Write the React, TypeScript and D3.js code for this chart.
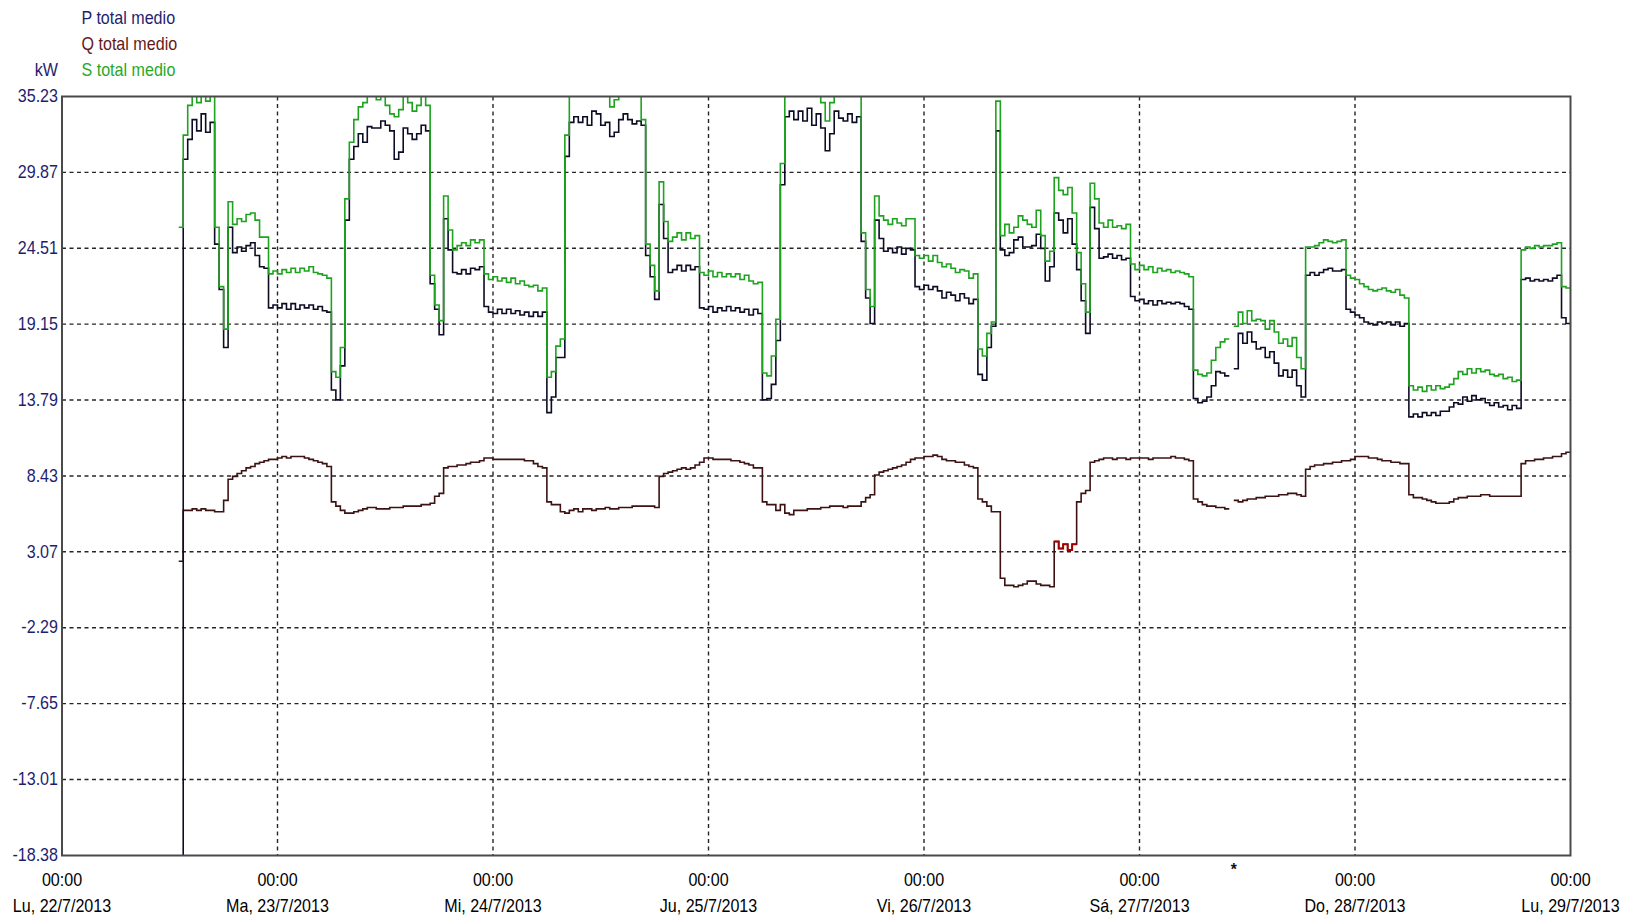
import React from "react";
import * as d3 from "d3";

// Half-hourly averages from Monday 22/7/2013 13:00 (hour 13 of the week) to Monday 29/7 00:00.
const FIRST_HOUR = 13;
const STEP_HOURS = 0.5;
const WEEK_HOURS = 168;

const yTickValues = [35.23, 29.87, 24.51, 19.15, 13.79, 8.43, 3.07, -2.29, -7.65, -13.01, -18.38];
const dayLabels = [
  "Lu, 22/7/2013",
  "Ma, 23/7/2013",
  "Mi, 24/7/2013",
  "Ju, 25/7/2013",
  "Vi, 26/7/2013",
  "Sá, 27/7/2013",
  "Do, 28/7/2013",
  "Lu, 29/7/2013",
];
const dayTimeLabel = "00:00";
const unitLabel = "kW";
const seriesNames = ["P total medio", "Q total medio", "S total medio"];
const gapMark = "*";
// hours where the reactive power readings are flagged
const qFlaggedHours = [110.5, 113];

// Active power P (kW); null = missing reading
const pTotal: (number | null)[] = [
  -19, 30.8, 32.2, 33.6, 32.8, 34.0, 32.7, 33.4, 24.8, 21.6,
  17.5, 26.0, 24.2, 24.6, 24.3, 24.7, 24.9, 24.0, 23.2, 23.1,
  20.3, 20.5, 20.3, 20.6, 20.2, 20.6, 20.2, 20.5, 20.3, 20.5,
  20.2, 20.4, 20.1, 20.0, 14.5, 13.8, 16.2, 26.5, 30.8, 31.7,
  32.6, 32.0, 33.1, 33.0,
  33.0, 33.5, 33.2, 32.8, 30.8, 31.3, 33.0, 32.6, 32.2, 32.6,
  33.2, 32.8, 22.0, 20.2, 18.4, 26.6, 24.4, 22.8, 22.7, 23.0,
  22.7, 23.1, 23.0, 23.2, 20.4, 20.0, 19.9, 20.2, 19.9, 20.2,
  19.9, 20.1, 19.8, 20.0, 19.7, 20.0, 19.7, 20.0, 12.9, 14.0,
  16.8, 16.8, 31.0, 33.4, 33.8,
  33.4, 33.8, 33.2, 34.2, 34.0, 33.2, 33.4, 32.4, 32.7, 33.6,
  34.0, 33.6, 33.3, 33.5, 33.2, 24.0, 22.5, 20.9, 27.6, 25.2,
  22.8, 23.0, 23.3, 22.9, 23.3, 23.0, 23.2, 20.3, 20.2, 20.4,
  20.0, 20.3, 20.1, 20.4, 20.1, 20.3, 20.0, 20.2, 19.8, 20.2,
  19.9, 13.8, 13.9, 14.9, 18.0,
  29.0, 33.8, 34.2, 33.6, 34.2, 33.5, 34.4, 33.2, 34.0, 33.0,
  31.4, 32.6, 34.2, 33.7, 33.5, 34.0, 33.4, 33.8, 25.0, 21.0,
  19.2, 26.5, 25.2, 24.3, 24.5, 24.2, 24.6, 24.1, 24.5, 24.4,
  21.8, 21.6, 21.9, 21.6, 21.8, 21.5, 21.0, 21.4, 21.2, 20.8,
  21.3, 21.0, 20.6, 20.9,
  15.6, 15.2, 17.5, 19.0, 32.8, 24.4, 24.0, 24.2, 25.1, 25.3,
  24.6, 24.6, 24.7, 25.5, 24.5, 22.2, 23.2, 27.0, 26.5, 25.6,
  26.6, 24.8, 23.0, 20.8, 18.5, 27.4, 25.9, 23.8, 23.9, 24.1,
  23.8, 24.0, 23.7, 23.8, 21.1, 20.8, 20.9, 20.6, 20.8, 20.5,
  20.8, 20.6, 20.7, 20.6, 20.7,
  20.6, 20.4, 20.2, 13.9, 13.6, 13.7, 14.0, 14.8, 15.8, 15.7,
  15.5, null, 16.0, 18.5, 17.8, 18.6, 17.9, 17.4, 17.5, 16.8,
  17.2, 16.4, 15.5, 15.9, 15.4, 15.9, 14.8, 14.0, 22.6, 22.8,
  22.6, 22.8, 23.0, 23.1, 22.9, 22.9, 23.0, 20.2, 20.0, 19.8,
  19.6, 19.3, 19.2, 19.1,
  19.3, 19.2, 19.3, 19.1, 19.3, 19.0, 19.2, 12.6, 12.8, 12.6,
  12.9, 12.7, 12.9, 12.7, 13.0, 13.0, 13.3, 13.6, 13.5, 14.0,
  13.7, 14.1, 13.8, 13.9, 13.6, 13.4, 13.6, 13.3, 13.4, 13.1,
  13.4, 13.2, 22.3, 22.4, 22.2, 22.3, 22.2, 22.3, 22.2, 22.4,
  22.6, 19.6, 19.2,
];

// Reactive power Q (kvar)
const qTotal: (number | null)[] = [
  2.4, 6.0, 6.0, 6.1, 6.0, 6.1, 6.0, 6.0, 5.9, 5.9,
  6.7, 8.2, 8.4, 8.6, 8.8, 9.0, 9.1, 9.3, 9.4, 9.5,
  9.6, 9.6, 9.7, 9.8, 9.7, 9.8, 9.8, 9.8, 9.7, 9.6,
  9.5, 9.4, 9.3, 9.1, 6.6, 6.3, 6.0, 5.8, 5.8, 5.9,
  6.0, 6.1, 6.2, 6.2,
  6.1, 6.1, 6.1, 6.2, 6.2, 6.2, 6.3, 6.3, 6.3, 6.3,
  6.4, 6.4, 6.5, 7.0, 7.2, 9.0, 9.1, 9.1, 9.2, 9.2,
  9.3, 9.4, 9.4, 9.5, 9.7, 9.7, 9.6, 9.6, 9.6, 9.6,
  9.6, 9.6, 9.6, 9.5, 9.5, 9.3, 9.1, 9.0, 6.6, 6.4,
  6.4, 5.9, 5.8, 6.0, 6.1,
  5.9, 6.1, 6.1, 6.0, 6.1, 6.1, 6.2, 6.1, 6.1, 6.2,
  6.2, 6.2, 6.3, 6.3, 6.3, 6.3, 6.3, 6.2, 8.4, 8.6,
  8.7, 8.8, 8.9, 9.0, 8.9, 9.0, 9.2, 9.4, 9.7, 9.7,
  9.6, 9.6, 9.6, 9.6, 9.5, 9.5, 9.4, 9.3, 9.2, 9.0,
  9.0, 6.6, 6.4, 6.4, 6.0,
  6.4, 5.8, 5.7, 6.0, 6.0, 6.0, 6.1, 6.1, 6.1, 6.2,
  6.2, 6.3, 6.3, 6.3, 6.2, 6.3, 6.3, 6.3, 6.6, 6.9,
  7.1, 8.5, 8.7, 8.8, 8.9, 9.0, 9.1, 9.2, 9.4, 9.6,
  9.7, 9.7, 9.8, 9.8, 9.9, 9.8, 9.6, 9.5, 9.5, 9.4,
  9.4, 9.2, 9.1, 9.0,
  6.8, 6.6, 6.3, 5.9, 5.9, 1.2, 0.7, 0.7, 0.6, 0.7,
  0.8, 1.0, 1.0, 0.8, 0.7, 0.7, 0.6, 3.8, 3.3, 3.6,
  3.2, 3.6, 6.6, 7.2, 7.4, 9.4, 9.5, 9.6, 9.7, 9.7,
  9.6, 9.7, 9.7, 9.6, 9.7, 9.7, 9.7, 9.7, 9.6, 9.7,
  9.7, 9.7, 9.7, 9.8, 9.7,
  9.7, 9.6, 9.5, 6.8, 6.6, 6.4, 6.3, 6.3, 6.2, 6.2,
  6.1, null, 6.7, 6.6, 6.7, 6.8, 6.8, 6.9, 6.9, 7.0,
  7.0, 7.0, 7.1, 7.1, 7.2, 7.2, 7.1, 7.0, 8.9, 9.1,
  9.2, 9.2, 9.3, 9.3, 9.4, 9.4, 9.5, 9.5, 9.6, 9.8,
  9.8, 9.8, 9.7, 9.7,
  9.6, 9.5, 9.5, 9.4, 9.4, 9.3, 9.3, 7.1, 6.9, 6.9,
  6.8, 6.7, 6.6, 6.5, 6.5, 6.5, 6.6, 6.8, 6.9, 6.9,
  7.0, 7.0, 7.0, 7.1, 7.1, 7.0, 7.0, 7.0, 7.0, 7.0,
  7.0, 7.0, 9.3, 9.5, 9.5, 9.6, 9.6, 9.7, 9.7, 9.8,
  9.8, 10.0, 10.1,
];

// Apparent power S (kVA)
const sTotal: (number | null)[] = [
  26.0, 32.5, 34.6, 35.6, 34.8, 35.6, 34.9, 35.8, 26.0, 21.8,
  18.8, 27.8, 26.2, 26.6, 26.4, 26.9, 27.0, 26.5, 25.3, 25.3,
  22.7, 22.9, 22.7, 23.0, 22.8, 23.1, 22.8, 23.1, 22.9, 23.2,
  22.8, 22.7, 22.6, 22.4, 15.8, 15.4, 17.5, 28.0, 32.0, 33.6,
  34.5, 34.8, 35.6, 35.6,
  35.0, 35.6, 34.6, 34.0, 33.8, 34.3, 35.3, 34.8, 34.2, 34.6,
  35.5, 34.6, 22.6, 20.5, 19.4, 28.2, 25.8, 24.4, 24.7, 24.9,
  24.7, 25.1, 24.9, 25.1, 22.7, 22.3, 22.5, 22.2, 22.4, 22.1,
  22.4, 22.0, 22.2, 21.9, 21.8, 21.9, 21.5, 21.7, 15.4, 15.8,
  17.6, 18.1, 32.5, 35.6, 35.6,
  35.6, 35.6, 35.6, 35.6, 35.6, 35.6, 35.5, 34.5, 35.0, 35.6,
  35.6, 35.6, 35.6, 35.6, 33.6, 24.8, 23.3, 21.5, 29.2, 26.4,
  25.0, 25.3, 25.6, 25.1, 25.6, 25.2, 25.4, 22.8, 22.6, 22.9,
  22.5, 22.8, 22.5, 22.7, 22.5, 22.7, 22.3, 22.6, 22.2, 22.0,
  22.1, 15.7, 15.5, 16.9, 19.5,
  30.5, 35.6, 35.6, 35.6, 35.6, 35.6, 35.6, 35.6, 35.6, 34.8,
  33.5, 34.8, 35.6, 35.6, 35.6, 35.6, 35.6, 35.6, 25.6, 21.6,
  20.4, 28.2, 26.8, 26.5, 26.2, 26.6, 26.3, 26.1, 26.6, 26.6,
  24.0, 23.8, 24.0, 23.6, 24.0, 23.5, 23.2, 23.4, 23.1, 22.8,
  23.0, 22.9, 22.4, 22.7,
  17.4, 16.9, 18.5, 19.3, 34.9, 25.4, 26.2, 25.6, 26.0, 26.8,
  26.5, 26.2, 26.0, 27.2, 25.4, 23.6, 24.3, 29.5, 28.6, 28.3,
  28.8, 27.0, 24.2, 22.0, 20.0, 29.1, 28.0, 26.3, 26.0, 26.5,
  26.0, 26.1, 25.9, 26.2, 23.4, 23.0, 23.3, 23.0, 23.2, 22.8,
  23.1, 22.9, 23.0, 22.8, 22.9,
  22.8, 22.7, 22.5, 15.9, 15.6, 15.5, 15.7, 16.6, 17.5, 17.9,
  18.1, null, 19.0, 20.0, 19.2, 20.1, 19.4, 19.5, 19.4, 18.8,
  19.4, 18.6, 17.8, 18.1, 17.6, 18.2, 16.8, 16.0, 24.6, 24.6,
  24.7, 24.9, 25.1, 25.0, 24.9, 25.0, 25.1, 22.6, 22.4, 22.3,
  22.0, 21.8, 21.6, 21.5,
  21.6, 21.7, 21.5, 21.4, 21.6, 21.2, 21.0, 14.8, 14.5, 14.7,
  14.4, 14.8, 14.5, 14.8, 14.6, 14.7, 14.9, 15.3, 15.8, 15.6,
  16.0, 15.7, 16.0, 15.8, 15.9, 15.6, 15.5, 15.6, 15.3, 15.4,
  15.1, 15.2, 24.4, 24.6, 24.5, 24.7, 24.6, 24.7, 24.7, 24.8,
  24.9, 21.8, 21.7,
];

const WIDTH = 1628;
const HEIGHT = 922;
const PLOT = { left: 62, right: 1570.5, top: 96.5, bottom: 855.5 };

const COLORS = {
  axisText: "#1e1e6e",
  p: "#0c0c24",
  q: "#3d1212",
  qFlag: "#a80000",
  s: "#1ea31e",
  pLegend: "#1e1e6e",
  qLegend: "#651818",
  sLegend: "#27a827",
  grid: "#000",
  frame: "#4a4a4a",
};

const FONT = "'Liberation Sans', Arial, sans-serif";
const FONT_SIZE = 17.5;
const X_SQUEEZE = 0.92;

type Pt = [number, number | null];

// Turn the half-hour samples into explicit step vertices so gaps stay open.
function stepPoints(values: (number | null)[], keep?: (t: number) => boolean): Pt[] {
  const pts: Pt[] = [];
  values.forEach((v, i) => {
    const t = FIRST_HOUR + i * STEP_HOURS;
    if (v == null || (keep && !keep(t))) {
      pts.push([t, null]);
      return;
    }
    pts.push([t, v], [t + STEP_HOURS, v]);
  });
  return pts;
}

function Label(props: {
  x: number;
  y: number;
  anchor?: "start" | "middle" | "end";
  fill: string;
  size?: number;
  weight?: number | string;
  children: React.ReactNode;
}) {
  const { x, y, anchor = "start", fill, size = FONT_SIZE, weight = "normal", children } = props;
  return (
    <text
      transform={`translate(${x},${y}) scale(${X_SQUEEZE},1)`}
      textAnchor={anchor}
      dominantBaseline="central"
      fill={fill}
      fontSize={size}
      fontWeight={weight}
      fontFamily={FONT}
    >
      {children}
    </text>
  );
}

export default function App() {
  const x = d3.scaleLinear().domain([0, WEEK_HOURS]).range([PLOT.left, PLOT.right]);
  const y = d3
    .scaleLinear()
    .domain([yTickValues[yTickValues.length - 1], yTickValues[0]])
    .range([PLOT.bottom, PLOT.top]);

  const line = d3
    .line<Pt>()
    .defined((d) => d[1] !== null)
    .x((d) => x(d[0]))
    .y((d) => y(d[1] as number));

  const dayTicks = d3.range(0, WEEK_HOURS + 1, 24);
  const gapIndex = pTotal.findIndex((v) => v === null);
  const gapHour = FIRST_HOUR + gapIndex * STEP_HOURS + STEP_HOURS;

  const qFlagPath = line(
    stepPoints(qTotal, (t) => t >= qFlaggedHours[0] && t < qFlaggedHours[1])
  );

  return (
    <svg
      width={WIDTH}
      height={HEIGHT}
      style={{ position: "absolute", left: 0, top: 0, background: "#fff" }}
    >
      <defs>
        <clipPath id="plot-area">
          <rect
            x={PLOT.left}
            y={PLOT.top}
            width={PLOT.right - PLOT.left}
            height={PLOT.bottom - PLOT.top}
          />
        </clipPath>
      </defs>
      <rect width={WIDTH} height={HEIGHT} fill="#fff" />

      {/* dashed grid */}
      <g stroke={COLORS.grid} strokeWidth={1.4} strokeDasharray="4 3.5" opacity={0.85}>
        {yTickValues.slice(1, -1).map((v) => (
          <line key={v} x1={PLOT.left} x2={PLOT.right} y1={y(v)} y2={y(v)} />
        ))}
        {dayTicks.slice(1, -1).map((h) => (
          <line key={h} x1={x(h)} x2={x(h)} y1={PLOT.top} y2={PLOT.bottom} />
        ))}
      </g>

      {/* series */}
      <g clipPath="url(#plot-area)" fill="none" strokeWidth={1.6} strokeLinejoin="miter">
        <path d={line(stepPoints(qTotal)) ?? ""} stroke={COLORS.q} />
        <path d={qFlagPath ?? ""} stroke={COLORS.qFlag} strokeWidth={1.9} />
        <path d={line(stepPoints(pTotal)) ?? ""} stroke={COLORS.p} />
        <path d={line(stepPoints(sTotal)) ?? ""} stroke={COLORS.s} />
      </g>

      {/* frame */}
      <rect
        x={PLOT.left}
        y={PLOT.top}
        width={PLOT.right - PLOT.left}
        height={PLOT.bottom - PLOT.top}
        fill="none"
        stroke={COLORS.frame}
        strokeWidth={2}
      />

      {/* y axis labels */}
      {yTickValues.map((v) => (
        <Label key={v} x={PLOT.left - 4} y={y(v)} anchor="end" fill={COLORS.axisText}>
          {v.toFixed(2)}
        </Label>
      ))}
      <Label x={PLOT.left - 4} y={70} anchor="end" fill={COLORS.axisText}>
        {unitLabel}
      </Label>

      {/* legend */}
      <Label x={81.5} y={18.5} fill={COLORS.pLegend}>
        {seriesNames[0]}
      </Label>
      <Label x={81.5} y={44} fill={COLORS.qLegend}>
        {seriesNames[1]}
      </Label>
      <Label x={81.5} y={70} fill={COLORS.sLegend}>
        {seriesNames[2]}
      </Label>

      {/* x axis labels */}
      {dayTicks.map((h, i) => (
        <g key={h}>
          <Label x={x(h)} y={880.5} anchor="middle" fill="#000">
            {dayTimeLabel}
          </Label>
          <Label x={x(h)} y={906} anchor="middle" fill="#000">
            {dayLabels[i]}
          </Label>
        </g>
      ))}

      {/* missing-data marker */}
      <Label x={x(gapHour)} y={869} anchor="middle" fill="#111" size={17} weight="bold">
        {gapMark}
      </Label>
    </svg>
  );
}
